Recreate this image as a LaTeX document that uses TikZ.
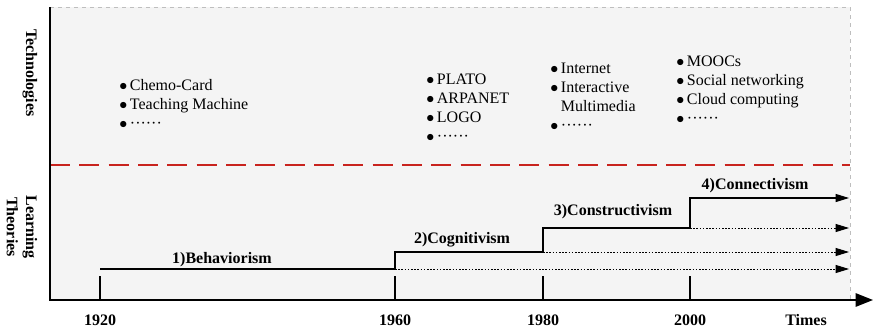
\documentclass[tikz,border=0pt]{standalone}
\usepackage{fontspec}
\setmainfont{Liberation Serif}
\usetikzlibrary{arrows.meta}

\definecolor{bggray}{RGB}{244,244,244}
\definecolor{framegray}{RGB}{190,190,190}
\definecolor{sepred}{RGB}{200,35,30}

\tikzset{
  axisline/.style={line width=1.3pt},
  stepline/.style={line width=0.8pt},
  dotline/.style={line width=0.7pt,dash pattern=on 1.2pt off 1.2pt},
  steptip/.style={-{Triangle[length=10pt,width=6pt]}},
  yearlabel/.style={font=\bfseries\fontsize{12pt}{14pt}\selectfont,inner sep=0pt},
  theorylabel/.style={font=\bfseries\fontsize{12pt}{14pt}\selectfont,inner sep=0pt,anchor=base},
  sidelabel/.style={font=\bfseries\fontsize{12pt}{14.5pt}\selectfont,inner sep=0pt,rotate=-90,align=center},
  techlist/.style={font=\fontsize{12pt}{14.25pt}\selectfont,inner sep=0pt,anchor=north west,align=left}
}
\newcommand{\itm}{$\bullet$\,}
\newcommand{\more}{$\bullet$\,······}

\begin{document}
\begin{tikzpicture}[x=0.75pt,y=0.75pt]
    \useasboundingbox (0,0) rectangle (874,330);
    % background and frame
    \fill[bggray] (50,30) rectangle (850,323);
    \draw[framegray,dashed] (50,323) -- (850,323) -- (850,30);
    \coordinate (sepl) at (50,165);
    \coordinate (sepr) at (850,165);
    \draw[sepred,line width=1.6pt,dash pattern=on 15pt off 7pt] (sepl) -- (sepr);
    % axes
    \coordinate (o) at (50,30);
    \coordinate (top) at (50,323);
    \coordinate (xend) at (873,30);
    \draw[axisline,-{Triangle[length=13pt,width=10pt]}] (top) -- (o) -- (xend);
    \node[yearlabel] (times) at (806,10) {Times};
    % ticks and years
    \foreach \x/\yr/\nm in {100/1920/a,395/1960/b,543/1980/c,690/2000/d}{
      \coordinate (t\nm) at (\x,30);
      \coordinate (u\nm) at (\x,54);
      \draw[stepline] (t\nm) -- (u\nm);
      \node[yearlabel] (y\nm) at (\x,10) {\yr};
    }
    % learning theories
    \coordinate (s1) at (100,61);
    \coordinate (s2) at (395,61);
    \coordinate (s3) at (395,78);
    \coordinate (s4) at (543,78);
    \coordinate (s5) at (543,102);
    \coordinate (s6) at (690,102);
    \coordinate (s7) at (690,132);
    \coordinate (e1) at (849,132);
    \coordinate (e2) at (849,102);
    \coordinate (e3) at (849,78);
    \coordinate (e4) at (849,61);
    \draw[stepline,steptip] (s1) -- (s2) -- (s3) -- (s4) -- (s5) -- (s6) -- (s7) -- (e1);
    \draw[dotline,steptip] (s2) -- (e4);
    \draw[dotline,steptip] (s4) -- (e3);
    \draw[dotline,steptip] (s6) -- (e2);
    \node[theorylabel] (behav) at (222,67) {1)Behaviorism};
    \node[theorylabel] (cogn) at (462,87) {2)Cognitivism};
    \node[theorylabel] (constr) at (613,115) {3)Constructivism};
    \node[theorylabel] (conn) at (755,141) {4)Connectivism};
    % technologies
    \node[techlist] (tech1) at (119,251) {\itm Chemo-Card\\\itm Teaching Machine\\\more};
    \node[techlist] (tech2) at (426,256) {\itm PLATO\\\itm ARPANET\\\itm LOGO\\\more};
    \node[techlist] (tech3) at (550,267) {\itm Internet\\\itm Interactive\\\phantom{\itm}Multimedia\\\more};
    \node[techlist] (tech4) at (676,274) {\itm MOOCs\\\itm Social networking\\\itm Cloud computing\\\more};
    % side labels
    \node[sidelabel] (techside) at (30,257) {Technologies};
    \node[sidelabel] (learnside) at (22,103) {Learning\\Theories};
\end{tikzpicture}
\end{document}
